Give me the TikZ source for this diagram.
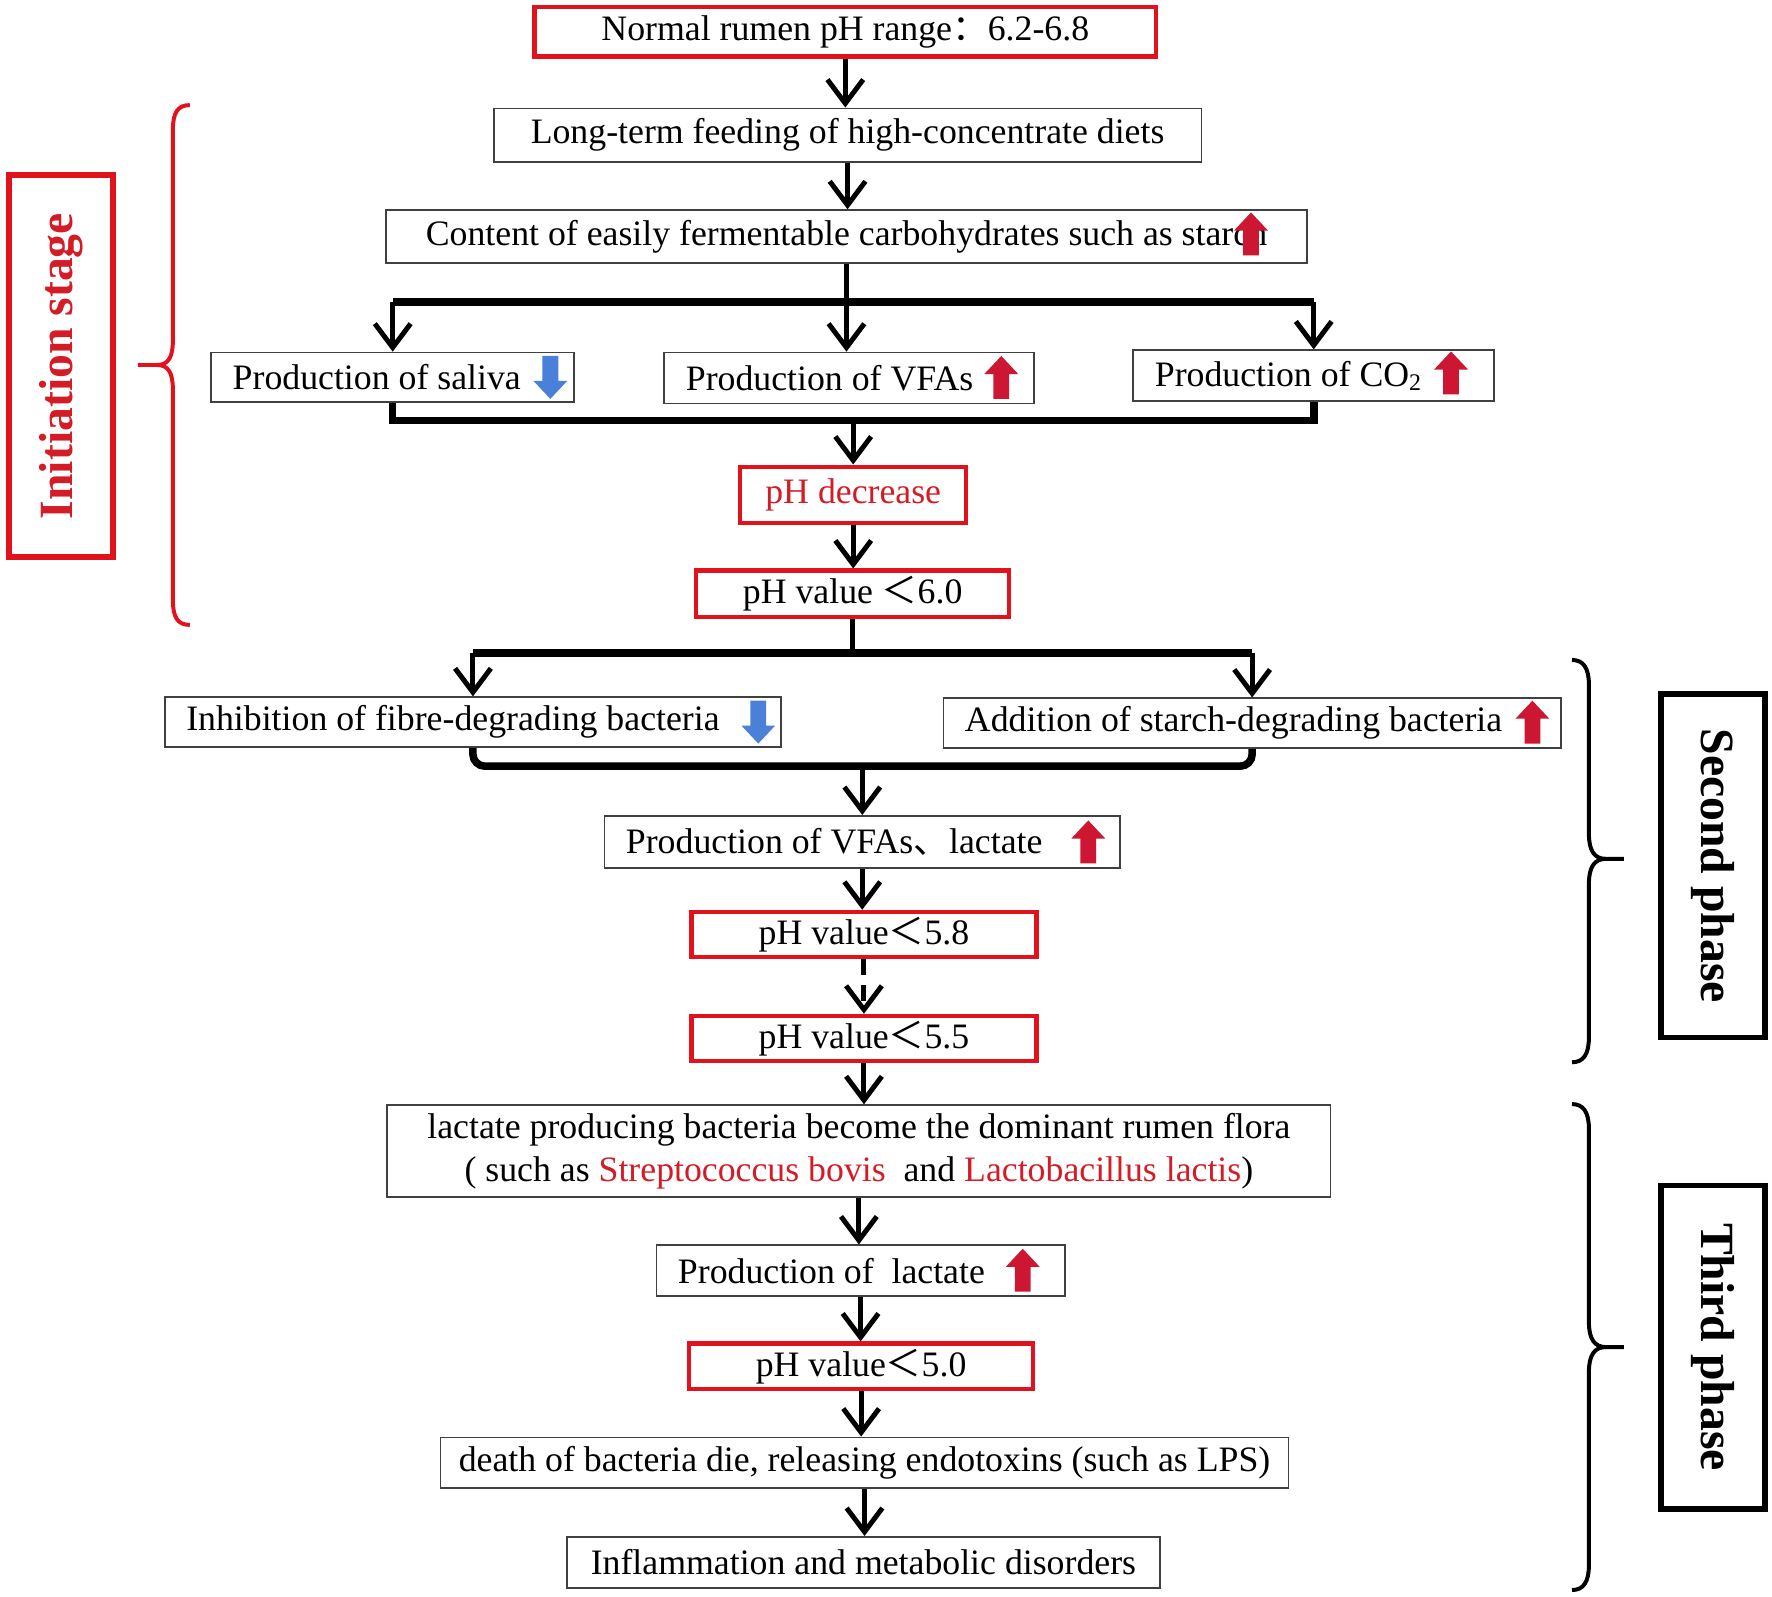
\documentclass[tikz,border=0pt]{standalone}
\usepackage{fontspec}
\setmainfont{Liberation Serif}
\newfontfamily\cjk{Noto Sans CJK SC}
\usepackage{tikz}
\usetikzlibrary{arrows.meta}

\definecolor{boxred}{RGB}{226,18,28}
\definecolor{txtred}{RGB}{212,28,38}
\definecolor{upred}{RGB}{204,22,50}
\definecolor{downblue}{RGB}{74,128,216}
\newcommand{\fwless}{{\cjk ＜}}

\tikzset{
  uparr/.pic={\fill[upred] (-7,19) -- (-7,-3) -- (-15,-3) -- (0,-19) -- (15,-3) -- (7,-3) -- (7,19) -- cycle;},
  downarr/.pic={\fill[downblue] (-7,-19) -- (-7,3) -- (-15,3) -- (0,19) -- (15,3) -- (7,3) -- (7,-19) -- cycle;}
}

\begin{document}
\begin{tikzpicture}[x=0.01cm,y=-0.01cm,
    box/.style={draw=black!75, line width=0.45pt, inner sep=0pt, font=\fontsize{9}{11}\selectfont},
    redbox/.style={box, draw=boxred, line width=1.1pt},
    arrbox/.style={box, align=flush left, inner xsep=0.19cm},
    phasebox/.style={draw=black, line width=1.4pt, inner sep=0pt, font=\fontsize{12}{14}\selectfont\bfseries},
    arr/.style={-{Straight Barb[length=6pt,width=9pt]}, line width=1.25pt},
    link/.style={line width=1.25pt},
    bar/.style={line width=1.9pt},
    brace/.style={line width=1pt}]
\useasboundingbox (0,0) rectangle (1568,1413);

% main column
\node[redbox, minimum width=5.5cm, minimum height=0.44cm] (normal) at (748,28) {Normal rumen pH range{\cjk ：}6.2-6.8};
\node[box, minimum width=6.26cm, minimum height=0.47cm] (feed) at (750,119.5) {Long-term feeding of high-concentrate diets};
\node[box, minimum width=8.14cm, minimum height=0.47cm] (starch) at (749,209.5) {Content of easily fermentable carbohydrates such as starch};
\node[arrbox, text width=2.83cm, minimum height=0.44cm] (saliva) at (347.5,334) {Production of saliva};
\node[arrbox, text width=2.89cm, minimum height=0.45cm] (vfas) at (751.5,334.5) {Production of VFAs};
\node[arrbox, text width=2.81cm, minimum height=0.45cm] (co2) at (1162.5,332.5) {Production of CO\textsubscript{2}};
\node[redbox, text=txtred, minimum width=2cm, minimum height=0.5cm] (phdec) at (755,438) {pH decrease};
\node[redbox, minimum width=2.77cm, minimum height=0.41cm] (ph60) at (754.5,525.5) {pH value \fwless6.0};
\node[arrbox, text width=5.07cm, minimum height=0.44cm] (fibre) at (418.5,639) {Inhibition of fibre-degrading bacteria};
\node[arrbox, text width=5.08cm, minimum height=0.44cm] (starchbac) at (1108,640) {Addition of starch-degrading bacteria};
\node[arrbox, text width=4.18cm, minimum height=0.46cm] (vfalac) at (763,745) {Production of VFAs{\cjk 、}lactate};
\node[redbox, minimum width=3.05cm, minimum height=0.4cm] (ph58) at (764.5,827) {pH value\fwless5.8};
\node[redbox, minimum width=3.05cm, minimum height=0.4cm] (ph55) at (764.5,919) {pH value\fwless5.5};
\node[box, align=center, minimum width=8.34cm, minimum height=0.81cm, font=\fontsize{9}{10.8}\selectfont] (flora) at (760,1018.5)
  {lactate producing bacteria become the dominant rumen flora\\( such as \textcolor{txtred}{Streptococcus bovis}~ and \textcolor{txtred}{Lactobacillus lactis})};
\node[arrbox, text width=3.23cm, minimum height=0.45cm] (lactate) at (761.5,1124.5) {Production of~ lactate};
\node[redbox, minimum width=3.04cm, minimum height=0.4cm] (ph50) at (762,1209) {pH value\fwless5.0};
\node[box, minimum width=7.5cm, minimum height=0.45cm] (death) at (765,1294.5) {death of bacteria die, releasing endotoxins (such as LPS)};
\node[box, minimum width=5.24cm, minimum height=0.45cm] (inflam) at (764,1382.5) {Inflammation and metabolic disorders};

% up / down marks
\pic at (1107,207) {uparr};
\pic at (487,334) {downarr};
\pic at (886,334) {uparr};
\pic at (1284,330) {uparr};
\pic at (671,639) {downarr};
\pic at (1356,639) {uparr};
\pic at (963,745) {uparr};
\pic at (905,1124) {uparr};

% stage labels
\node[phasebox, draw=boxred, text=txtred, rotate=90, minimum width=3.38cm, minimum height=0.92cm] (init) at (54,324) {Initiation stage};
\node[phasebox, rotate=-90, minimum width=3.04cm, minimum height=0.92cm] (second) at (1516,766) {Second phase};
\node[phasebox, rotate=-90, minimum width=2.86cm, minimum height=0.92cm] (third) at (1516,1192) {Third phase};

% connectors
\coordinate (split1) at (750,267);
\coordinate (merge1) at (755,372);
\coordinate (split2) at (758,578);
\coordinate (merge2) at (763,678);
\draw[arr] (normal.south) -- (normal.south |- feed.north);
\draw[arr] (feed.south) -- (feed.south |- starch.north);
\draw[arr] (starch.south) -- (starch.south |- vfas.north);
\draw[bar] (saliva.north |- split1) -- (co2.north |- split1);
\draw[arr] (saliva.north |- split1) -- (saliva.north);
\draw[arr] (co2.north |- split1) -- (co2.north);
\draw[bar] (saliva.south) -- (saliva.south |- merge1) -- (co2.south |- merge1) -- (co2.south);
\draw[arr] (merge1) -- (phdec.north);
\draw[arr] (phdec.south) -- (phdec.south |- ph60.north);
\draw[link] (ph60.south) -- (ph60.south |- split2);
\draw[bar] (fibre.north |- split2) -- (starchbac.north |- split2);
\draw[arr] (fibre.north |- split2) -- (fibre.north);
\draw[arr] (starchbac.north |- split2) -- (starchbac.north);
\draw[bar, rounded corners=3pt] (fibre.south) -- (fibre.south |- merge2) -- (starchbac.south |- merge2) -- (starchbac.south);
\draw[arr] (merge2) -- (vfalac.north);
\draw[arr] (vfalac.south) -- (vfalac.south |- ph58.north);
\draw[arr, dash pattern=on 4pt off 2.5pt] (ph58.south) -- (ph58.south |- ph55.north);
\draw[arr] (ph55.south) -- (ph55.south |- flora.north);
\draw[arr] (flora.south) -- (flora.south |- lactate.north);
\draw[arr] (lactate.south) -- (lactate.south |- ph50.north);
\draw[arr] (ph50.south) -- (ph50.south |- death.north);
\draw[arr] (death.south) -- (death.south |- inflam.north);

% braces
\draw[brace, boxred] (168,93) .. controls (157,93) and (153,100) .. (153,115) -- (153,301)
  .. controls (153,316) and (149,323) .. (139,323) -- (122,323);
\draw[brace, boxred] (139,323) .. controls (149,323) and (153,330) .. (153,345) -- (153,531)
  .. controls (153,546) and (157,553) .. (168,553);
\foreach \ya/\ym/\yb in {584/760/940, 977/1192/1407} {
  \draw[brace] (1391,\ya) .. controls (1401,\ya) and (1406,{\ya+7}) .. (1406,{\ya+22}) -- (1406,{\ym-22})
    .. controls (1406,{\ym-7}) and (1411,\ym) .. (1421,\ym) -- (1437,\ym);
  \draw[brace] (1421,\ym) .. controls (1411,\ym) and (1406,{\ym+7}) .. (1406,{\ym+22}) -- (1406,{\yb-22})
    .. controls (1406,{\yb-7}) and (1401,\yb) .. (1391,\yb);
}
\end{tikzpicture}
\end{document}
